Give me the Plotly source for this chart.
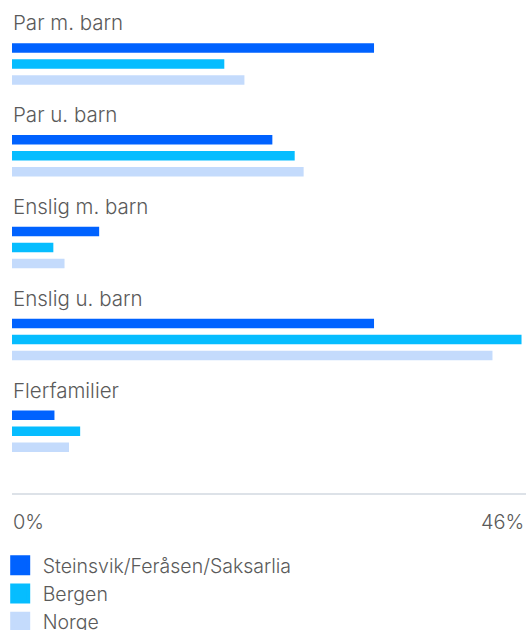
import plotly.graph_objects as go

categories = ["Par m. barn", "Par u. barn", "Enslig m. barn", "Enslig u. barn", "Flerfamilier"]
series_names = ["Steinsvik/Feråsen/Saksarlia", "Bergen", "Norge"]
steinsvik = [32.4, 23.3, 7.8, 32.4, 3.8]
bergen = [19.0, 25.3, 3.7, 45.6, 6.1]
norge = [20.8, 26.1, 4.7, 43.0, 5.1]
x_max = 46
tick_values = [0, 46]
tick_labels = ["0%", "46%"]

colors = ["#0062ff", "#06bdff", "#c4dbfc"]
text_color = "#5a5a5a"
font_family = "Inter, 'Open Sans', sans-serif"

fig = go.Figure()
for name, vals, col in zip(series_names, [steinsvik, bergen, norge], colors):
    fig.add_trace(go.Bar(
        y=categories, x=vals, name=name, orientation="h",
        marker=dict(color=col, line=dict(width=0)),
        showlegend=False, hoverinfo="x+name",
    ))
for i, (name, col) in enumerate(zip(series_names, colors)):
    fig.add_trace(go.Scatter(
        x=[None], y=[None], mode="markers", name=name,
        marker=dict(symbol="square", size=16, color=col, line=dict(color=col, width=4)),
        legendgroup=f"g{i}", showlegend=True,
    ))

annotations = []
for c in categories:
    annotations.append(dict(
        x=0, y=c, xref="x", yref="y", text=c, showarrow=False,
        xanchor="left", yanchor="middle", yshift=41, xshift=-1,
        font=dict(size=20.5, color=text_color, family=font_family, weight=300),
    ))
for tv, tl in zip(tick_values, tick_labels):
    annotations.append(dict(
        x=tv, y=0, xref="x", yref="paper", text=tl, showarrow=False,
        xanchor="left" if tv == 0 else "right", yanchor="middle", yshift=-29,
        xshift=-1 if tv == 0 else 0,
        font=dict(size=20, color=text_color, family=font_family, weight=300),
    ))

fig.update_layout(
    width=528, height=630,
    margin=dict(l=12, r=2, t=0, b=137, autoexpand=False),
    paper_bgcolor="white", plot_bgcolor="white",
    barmode="group", bargap=0.477, bargroupgap=0.406,
    xaxis=dict(range=[0, x_max], showgrid=False, zeroline=False, showticklabels=False,
               showline=True, linecolor="#dde2e8", linewidth=1.5, fixedrange=True),
    yaxis=dict(type="category", categoryorder="array", categoryarray=categories,
               range=[4.673, -0.697], showgrid=False, zeroline=False, showticklabels=False,
               showline=False, fixedrange=True),
    legend=dict(x=-0.0278, xanchor="left", y=-0.1075, yanchor="top", orientation="v",
                font=dict(size=19.5, color=text_color, family=font_family, weight=300),
                tracegroupgap=0, itemwidth=35, itemclick=False, bgcolor="rgba(0,0,0,0)"),
    annotations=annotations,
    showlegend=True,
)

fig.write_html("out.html", config={"displayModeBar": False},
               post_script="document.body.style.margin='0';document.body.style.overflow='hidden';")
